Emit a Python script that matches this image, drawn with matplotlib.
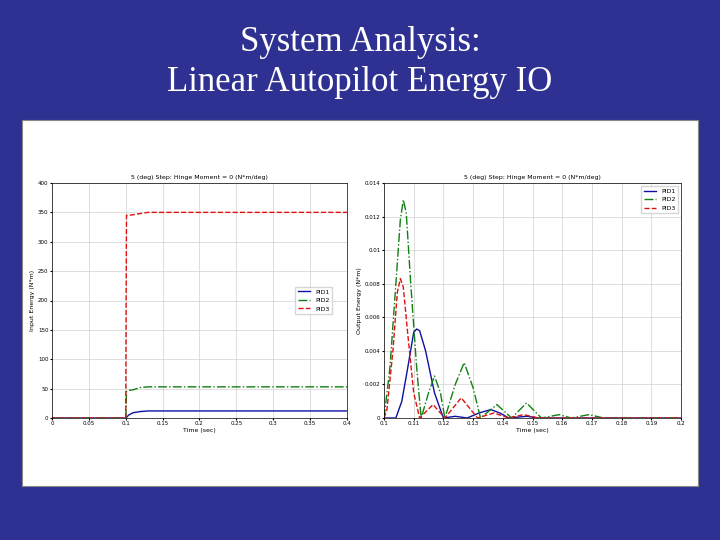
import matplotlib.pyplot as plt

# input energy (left)
t_in = [0, 0.1, 0.1005, 0.101, 0.104, 0.11, 0.12, 0.13, 0.15, 0.4]
pid1_in = [0, 0, 0, 1, 5, 9, 11, 12, 12, 12]
pid2_in = [0, 0, 20, 45, 47, 48, 52, 53, 53, 53]
pid3_in = [0, 0, 200, 345, 345, 346, 348, 350, 350, 350]

# output energy (right)
t1 = [0.1, 0.104, 0.106, 0.108, 0.11, 0.111, 0.112, 0.114, 0.117, 0.12, 0.124, 0.128,
      0.132, 0.136, 0.139, 0.142, 0.148, 0.152, 0.2]
pid1_out = [0, 0, 0.001, 0.003, 0.0051, 0.0053, 0.0052, 0.004, 0.0015, 0, 0.0001, 0,
            0.0003, 0.0005, 0.0003, 0, 0.0001, 0, 0]
t2 = [0.1, 0.102, 0.104, 0.1055, 0.1065, 0.1075, 0.109, 0.111, 0.1125, 0.115, 0.117, 0.119,
      0.1205, 0.124, 0.127, 0.13, 0.1325, 0.138, 0.143, 0.148, 0.153, 0.159, 0.163,
      0.169, 0.174, 0.2]
pid2_out = [0, 0.003, 0.008, 0.0118, 0.013, 0.0122, 0.008, 0.003, 0, 0.0015, 0.0025, 0.0015,
            0, 0.002, 0.0033, 0.0018, 0, 0.0008, 0, 0.0009, 0, 0.0002, 0,
            0.0002, 0, 0]
t3 = [0.1, 0.101, 0.103, 0.1045, 0.1055, 0.1065, 0.108, 0.11, 0.112, 0.1165, 0.1205, 0.126,
      0.1315, 0.137, 0.142, 0.147, 0.152, 0.2]
pid3_out = [0, 0.0005, 0.004, 0.0075, 0.0083, 0.0078, 0.005, 0.0015, 0, 0.0008, 0, 0.0012,
            0, 0.0003, 0, 0.0002, 0, 0]

labels = ['PID1', 'PID2', 'PID3']
title = '5 (deg) Step: Hinge Moment = 0 (N*m/deg)'

fig = plt.figure(figsize=(7.2, 5.4), dpi=100)
fig.patch.set_facecolor('#2e3192')
fig.text(0.5, 0.922, 'System Analysis:', ha='center', va='center', color='white',
         fontsize=25, family='Liberation Serif')
fig.text(0.5, 0.848, 'Linear Autopilot Energy IO', ha='center', va='center', color='white',
         fontsize=25, family='Liberation Serif')

# white panel behind the plots
panel = fig.add_axes([22 / 720, 1 - 486 / 540, 676 / 720, 366 / 540])
panel.set_zorder(-1)
panel.set_xticks([])
panel.set_yticks([])
panel.set_facecolor('white')
for s in panel.spines.values():
    s.set_color('#888888')

styles = [dict(color='#1010a0', ls='-'), dict(color='#108010', ls='-.'),
          dict(color='#e01010', ls='--')]

ax1 = fig.add_axes([52 / 720, 1 - 418 / 540, 295 / 720, 235 / 540])
for y, lab, st in zip([pid1_in, pid2_in, pid3_in], labels, styles):
    ax1.plot(t_in, y, lw=1, label=lab, **st)
ax1.set_xlim(0, 0.4)
ax1.set_ylim(0, 400)
ax1.set_xticks([0, 0.05, 0.1, 0.15, 0.2, 0.25, 0.3, 0.35, 0.4])
ax1.set_xticklabels(['0', '0.05', '0.1', '0.15', '0.2', '0.25', '0.3', '0.35', '0.4'])
ax1.set_ylabel('Input Energy (N*m)', fontsize=4.5, labelpad=2)
ax1.legend(loc='center right', fontsize=4.5, frameon=True, fancybox=False,
           bbox_to_anchor=(0.96, 0.5))

ax2 = fig.add_axes([384 / 720, 1 - 418 / 540, 297 / 720, 235 / 540])
for t, y, lab, st in zip([t1, t2, t3], [pid1_out, pid2_out, pid3_out], labels, styles):
    ax2.plot(t, y, lw=1, label=lab, **st)
ax2.set_xlim(0.1, 0.2)
ax2.set_ylim(0, 0.014)
ax2.set_xticks([0.1 + 0.01 * i for i in range(11)])
ax2.set_xticklabels(['0.1', '0.11', '0.12', '0.13', '0.14', '0.15', '0.16', '0.17',
                     '0.18', '0.19', '0.2'])
ax2.set_yticks([0, 0.002, 0.004, 0.006, 0.008, 0.01, 0.012, 0.014])
ax2.set_yticklabels(['0', '0.002', '0.004', '0.006', '0.008', '0.01', '0.012', '0.014'])
ax2.set_ylabel('Output Energy (N*m)', fontsize=4.5, labelpad=2)
ax2.legend(loc='upper right', fontsize=4.5, frameon=True, fancybox=False)

for ax in (ax1, ax2):
    ax.set_title(title, fontsize=4.5, pad=3)
    ax.set_xlabel('Time (sec)', fontsize=4.5, labelpad=1)
    ax.tick_params(labelsize=4, length=1.5, pad=1)
    ax.grid(True, color='#d0d0d0', lw=0.5)
    for s in ax.spines.values():
        s.set_linewidth(0.5)

fig.savefig('out.png', dpi=100, facecolor=fig.get_facecolor())
